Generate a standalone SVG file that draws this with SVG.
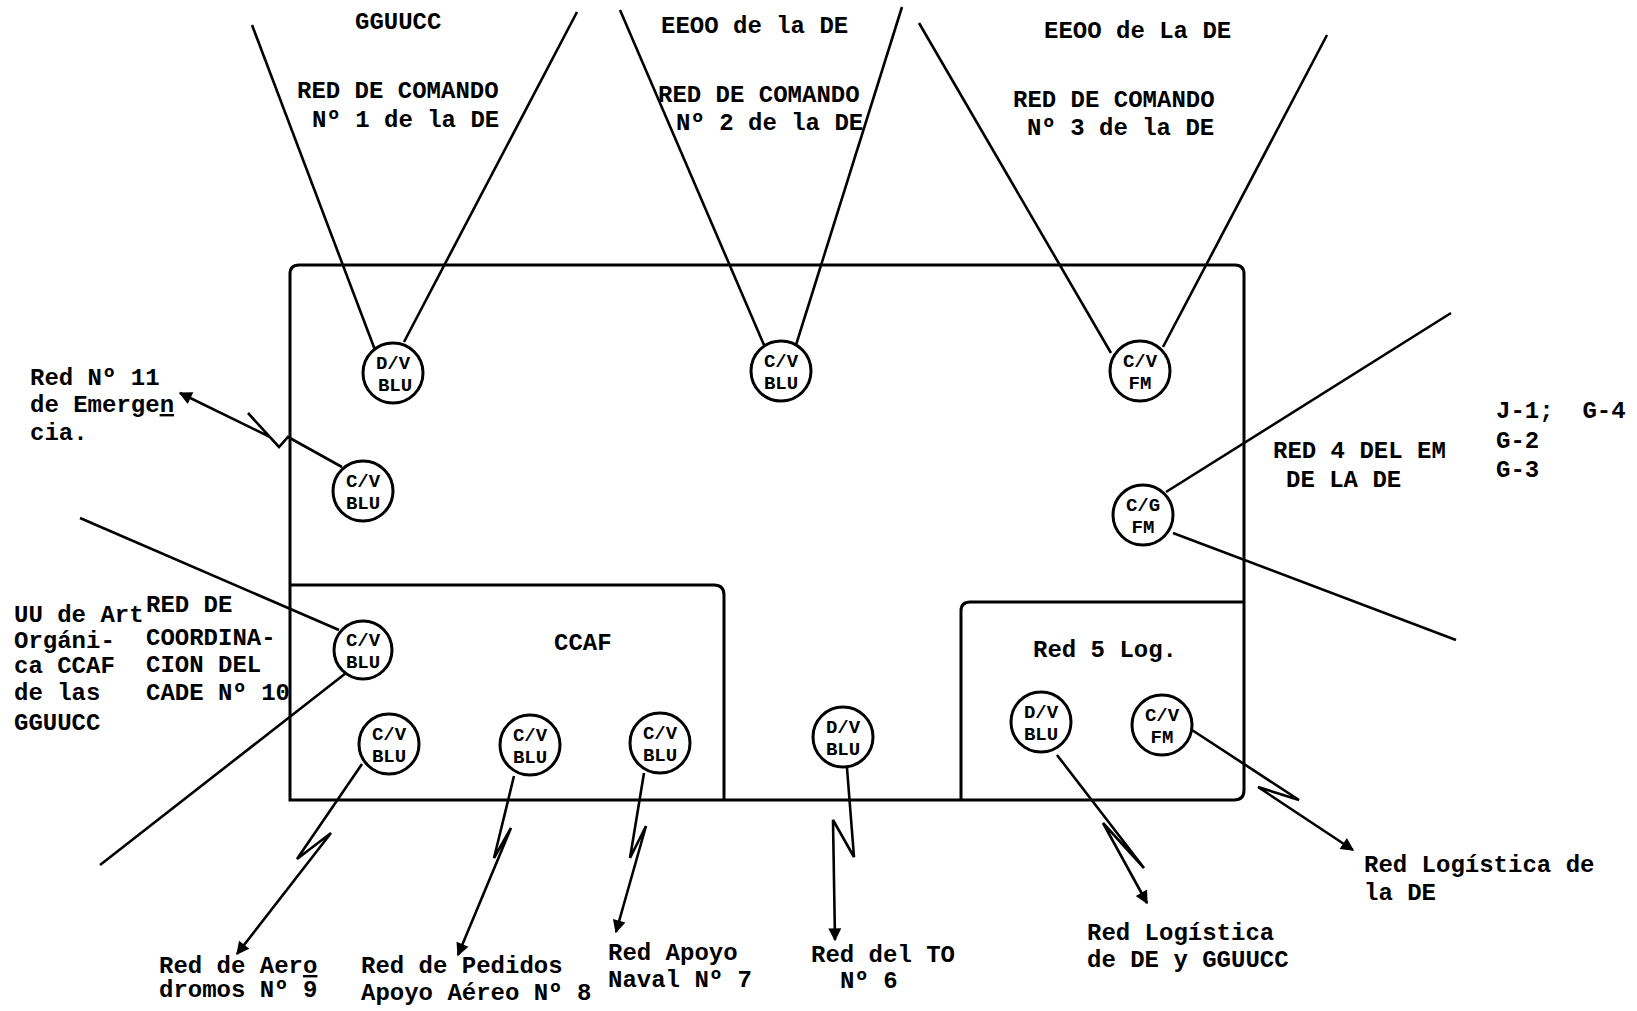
<svg xmlns="http://www.w3.org/2000/svg" width="1637" height="1011" viewBox="0 0 1637 1011">
<defs>
<style>
.t{font-family:"Liberation Mono","DejaVu Sans Mono",monospace;font-size:24px;font-weight:bold;fill:#000}
.c{font-family:"Liberation Mono","DejaVu Sans Mono",monospace;font-size:19px;font-weight:bold;fill:#000;text-anchor:middle}
.box{fill:none;stroke:#000;stroke-width:3}
.ln{fill:none;stroke:#000;stroke-width:2.6;stroke-linejoin:miter}
.circ{fill:#fff;stroke:#000;stroke-width:3}
.u{text-decoration:underline}
</style>
<marker id="ah" viewBox="0 0 10 10" refX="9" refY="5" markerWidth="16" markerHeight="13" markerUnits="userSpaceOnUse" orient="auto">
<path d="M0,0 L10,5 L0,10 z" fill="#000"/>
</marker>
</defs>
<rect width="1637" height="1011" fill="#fff"/>

<g id="main-box">
<path class="box" d="M290,800 L290,274 Q290,265 299,265 L1235,265 Q1244,265 1244,274 L1244,790 Q1244,800 1234,800 Z"/>
</g>
<g id="ccaf-box">
<path class="box" d="M290,585 L714,585 Q724,585 724,595 L724,800"/>
<text class="t" x="554" y="650">CCAF</text>
</g>
<g id="log-box">
<path class="box" d="M961,800 L961,611 Q961,602 970,602 L1244,602"/>
<text class="t" x="1033" y="657">Red 5 Log.</text>
</g>

<g id="connectors">
<path class="ln" d="M252,25 L375,350"/>
<path class="ln" d="M577,12 L404,342"/>
<path class="ln" d="M620,10 L764,345"/>
<path class="ln" d="M902,7 L796,345"/>
<path class="ln" d="M919,23 L1111,353"/>
<path class="ln" d="M1327,35 L1163,347"/>
<path class="ln" d="M1166,492 L1451,313"/>
<path class="ln" d="M1173,533 L1456,640"/>
<path class="ln" d="M80,518 L339,630"/>
<path class="ln" d="M346,673 L100,865"/>
<path class="ln" d="M342,467 L288,437 L279,447 L248,413 M270,437 L180,393" marker-end="url(#ah)"/>
<path class="ln" d="M362,764 L297,859 L331,833 L237,954" marker-end="url(#ah)"/>
<path class="ln" d="M514,776 L494,858 L511,828 L458,955" marker-end="url(#ah)"/>
<path class="ln" d="M644,773 L630,858 L646,826 L616,932" marker-end="url(#ah)"/>
<path class="ln" d="M847,768 L854,857 L833,820 L835,940" marker-end="url(#ah)"/>
<path class="ln" d="M1057,755 L1144,868 L1103,823 L1147,903" marker-end="url(#ah)"/>
<path class="ln" d="M1192,730 L1299,800 L1258,787 L1353,850" marker-end="url(#ah)"/>
</g>

<g id="n-dv-blu-1"><circle class="circ" cx="393" cy="373" r="30"/><text class="c" x="393" y="369">D/V</text><text class="c" x="395" y="391">BLU</text></g>
<g id="n-cv-blu-2"><circle class="circ" cx="781" cy="371" r="30"/><text class="c" x="781" y="367">C/V</text><text class="c" x="781" y="389">BLU</text></g>
<g id="n-cv-fm-3"><circle class="circ" cx="1140" cy="371" r="30"/><text class="c" x="1140" y="367">C/V</text><text class="c" x="1140" y="389">FM</text></g>
<g id="n-cv-blu-11"><circle class="circ" cx="363" cy="491" r="30"/><text class="c" x="363" y="487">C/V</text><text class="c" x="363" y="509">BLU</text></g>
<g id="n-sg-fm-4"><circle class="circ" cx="1143" cy="515" r="30"/><text class="c" x="1143" y="511">C/G</text><text class="c" x="1143" y="533">FM</text></g>
<g id="n-cv-blu-10"><circle class="circ" cx="363" cy="650" r="29"/><text class="c" x="363" y="646">C/V</text><text class="c" x="363" y="668">BLU</text></g>
<g id="n-cv-blu-9"><circle class="circ" cx="389" cy="744" r="30"/><text class="c" x="389" y="740">C/V</text><text class="c" x="389" y="762">BLU</text></g>
<g id="n-cv-blu-8"><circle class="circ" cx="530" cy="745" r="30"/><text class="c" x="530" y="741">C/V</text><text class="c" x="530" y="763">BLU</text></g>
<g id="n-cv-blu-7"><circle class="circ" cx="660" cy="743" r="30"/><text class="c" x="660" y="739">C/V</text><text class="c" x="660" y="761">BLU</text></g>
<g id="n-dv-blu-6"><circle class="circ" cx="843" cy="737" r="30"/><text class="c" x="843" y="733">D/V</text><text class="c" x="843" y="755">BLU</text></g>
<g id="n-dv-blu-5"><circle class="circ" cx="1041" cy="722" r="30"/><text class="c" x="1041" y="718">D/V</text><text class="c" x="1041" y="740">BLU</text></g>
<g id="n-cv-fm-5"><circle class="circ" cx="1162" cy="725" r="30"/><text class="c" x="1162" y="721">C/V</text><text class="c" x="1162" y="743">FM</text></g>

<g id="labels">
<text class="t" x="355" y="29">GGUUCC</text>
<text class="t" x="297" y="98">RED DE COMANDO</text>
<text class="t" x="312" y="127">Nº 1 de la DE</text>
<text class="t" x="661" y="33">EEOO de la DE</text>
<text class="t" x="658" y="102">RED DE COMANDO</text>
<text class="t" x="676" y="130">Nº 2 de la DE</text>
<text class="t" x="1044" y="38">EEOO de La DE</text>
<text class="t" x="1013" y="107">RED DE COMANDO</text>
<text class="t" x="1027" y="135">Nº 3 de la DE</text>
<text class="t" x="1273" y="458">RED 4 DEL EM</text>
<text class="t" x="1286" y="487">DE LA DE</text>
<text class="t" x="1496" y="418">J-1;&#160; G-4</text>
<text class="t" x="1496" y="448">G-2</text>
<text class="t" x="1496" y="477">G-3</text>
<text class="t" x="30" y="385">Red Nº 11</text>
<text class="t" x="30" y="412">de Emerge<tspan class="u">n</tspan></text>
<text class="t" x="30" y="440">cia.</text>
<text class="t" x="14" y="622">UU de Art</text>
<text class="t" x="14" y="648">Orgáni-</text>
<text class="t" x="14" y="673">ca CCAF</text>
<text class="t" x="14" y="700">de las</text>
<text class="t" x="14" y="730">GGUUCC</text>
<text class="t" x="146" y="612">RED DE</text>
<text class="t" x="146" y="645">COORDINA-</text>
<text class="t" x="146" y="672">CION DEL</text>
<text class="t" x="146" y="700">CADE Nº 10</text>
<text class="t" x="159" y="973">Red de Aer<tspan class="u">o</tspan></text>
<text class="t" x="159" y="997">dromos Nº 9</text>
<text class="t" x="361" y="973">Red de Pedidos</text>
<text class="t" x="361" y="1000">Apoyo Aéreo Nº 8</text>
<text class="t" x="608" y="960">Red Apoyo</text>
<text class="t" x="608" y="987">Naval Nº 7</text>
<text class="t" x="811" y="962">Red del TO</text>
<text class="t" x="840" y="988">Nº 6</text>
<text class="t" x="1087" y="940">Red Logística</text>
<text class="t" x="1087" y="967">de DE y GGUUCC</text>
<text class="t" x="1364" y="872">Red Logística de</text>
<text class="t" x="1364" y="900">la DE</text>
</g>
</svg>
